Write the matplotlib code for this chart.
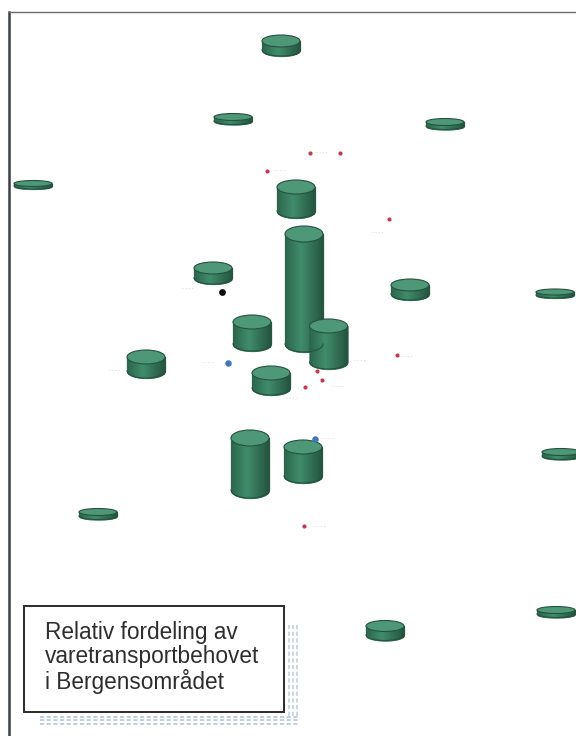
import numpy as np
import matplotlib
matplotlib.use("Agg")
import matplotlib.pyplot as plt
from matplotlib.patches import Ellipse, Rectangle

# cylinders in pixels
cyl_x = [281, 233, 445, 33, 296, 304, 213, 410, 555, 252, 328.5, 146, 271, 250, 303, 98, 561, 556, 385]
cyl_top = [41, 117, 122, 183.5, 187, 234, 268, 285, 292, 322, 326, 357, 373, 438, 447, 512, 452, 610, 626]
cyl_bottom = [50, 121, 126, 186, 211, 344, 278, 294, 295, 344, 362, 371, 388, 490, 476, 516, 456, 614, 635]
cyl_ry = [6, 3.5, 3.5, 3, 7, 8, 6, 6, 3, 7, 7, 7, 7, 8, 7, 3.5, 3.5, 3.5, 5.5]

red_x = [267, 340, 389, 397, 317, 322, 305, 304, 310]
red_y = [171, 153, 219, 355, 371, 380, 387, 526, 153]
blue_x = [228, 315]
blue_y = [363, 439]
black_x = [222]
black_y = [292]

# faint unreadable labels next to the dots and cylinders
label_x = [280, 378, 407, 338, 360, 283, 292, 188, 208, 115, 322, 328, 262, 320]
label_y = [171, 232, 356, 387, 360, 369, 398, 289, 363, 370, 153, 439, 348, 527]

title_lines = ["Relativ fordeling av", "varetransportbehovet", "i Bergensområdet"]

RADIUS = 19
EDGE = "#24523f"
TOP = "#4f9877"


def draw_cylinder(ax, x, top, bottom, ry):
    # side is split in strips so it gets the dark-light-dark shading
    edges = np.linspace(-RADIUS, RADIUS, 25)
    for a, b in zip(edges[:-1], edges[1:]):
        mid = (a + b) / 2
        shade = 1 - abs(mid + 3) / (RADIUS + 3)
        col = np.array([0.14, 0.33, 0.25]) * (1 - shade) + np.array([0.25, 0.55, 0.42]) * shade
        xs = np.linspace(a, b, 4)
        low = bottom + ry * np.sqrt(np.clip(1 - (xs / RADIUS) ** 2, 0, 1))
        ax.fill_between(x + xs, top, low, color=col, lw=0.9, zorder=3)
    xs = np.linspace(-RADIUS, RADIUS, 60)
    low = bottom + ry * np.sqrt(1 - (xs / RADIUS) ** 2)
    ax.plot(x + xs, low, color=EDGE, lw=0.8, zorder=4)
    ax.add_patch(Ellipse((x, top), 2 * RADIUS, 2 * ry, fc=TOP, ec=EDGE, lw=0.8, zorder=5))


fig = plt.figure(figsize=(5.76, 7.36), dpi=100)
ax = fig.add_axes([0, 0, 1, 1])
ax.set_xlim(0, 576)
ax.set_ylim(736, 0)
ax.axis("off")

# frame, only left and top
ax.plot([9, 9], [736, 12], color="#3a3f45", lw=1.8, zorder=1)
ax.plot([9, 576], [12, 12], color="#6a6a6a", lw=1.0, zorder=1)

# pale scale pattern around the text box
for yy in [717, 720, 724]:
    ax.plot([40, 298], [yy, yy], color="#b4c6dc", lw=1.2, ls=(0, (2.5, 1.5)), zorder=1)
for xx in [289, 293, 297]:
    ax.plot([xx, xx], [625, 716], color="#c0cfe0", lw=1.2, ls=(0, (2.5, 1.5)), zorder=1)

for i in range(len(cyl_x)):
    draw_cylinder(ax, cyl_x[i], cyl_top[i], cyl_bottom[i], cyl_ry[i])

ax.scatter(red_x, red_y, s=9, color="#c23a52", zorder=6, linewidths=0)
ax.scatter(blue_x, blue_y, s=22, color="#3f78b4", zorder=6, linewidths=0)
ax.scatter(black_x, black_y, s=24, color="#101010", zorder=6, linewidths=0)

for x, y in zip(label_x, label_y):
    ax.text(x, y, "- - - -", fontsize=3.5, color="#bdbdbd", ha="center", va="center", zorder=2)

# text box
ax.add_patch(Rectangle((24, 606), 260, 106, fc="white", ec="#2b2b2b", lw=1.4, zorder=7))
for line, y in zip(title_lines, [632, 657, 682]):
    ax.text(45, y, line, family="Liberation Sans", fontsize=16.3, color="#2e2e2e",
            va="center", ha="left", zorder=8)

fig.savefig("out.png", dpi=100)
